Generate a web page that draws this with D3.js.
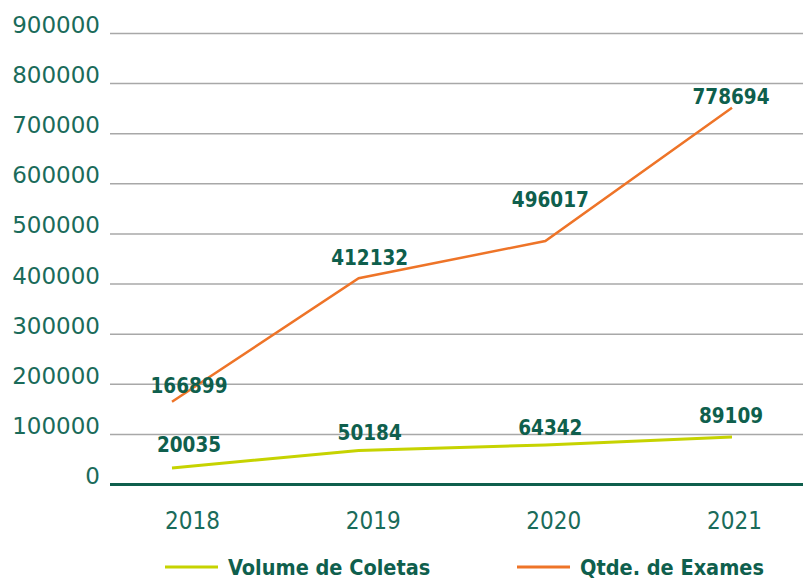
<!DOCTYPE html>
<html lang="pt">
<head>
<meta charset="UTF-8">
<title>Coletas e Exames</title>
<script src="https://cdn.jsdelivr.net/npm/d3@7"></script>
<style>
  body { margin: 0; background: #fff; }
</style>
</head>
<body>
<svg width="803" height="579" id="mainsvg"></svg>
<script>
// data
const years = ["2018", "2019", "2020", "2021"];
const coletas = [32000, 67000, 78000, 94000];        // where the green line sits
const exames = [164000, 410500, 485000, 751000];     // where the orange line sits
const coletasLabels = ["20035", "50184", "64342", "89109"];
const examesLabels = ["166899", "412132", "496017", "778694"];
const yTicks = [0, 100000, 200000, 300000, 400000, 500000, 600000, 700000, 800000, 900000];
const seriesNames = ["Volume de Coletas", "Qtde. de Exames"];

// label lift above the line point (layout only)
const coletasLift = [16, 10, 10, 14];
const examesLift = [9, 13, 34, 4];

const teal = '#0f5f4d';
const tickTeal = '#1a6b5a';
const green = '#c6d300';
const orange = '#ee7428';

const svg = d3.select('#mainsvg');
const plot = { left: 110, right: 803, top: 33, bottom: 484 };

const yScale = d3.scaleLinear().domain([0, 900000]).range([plot.bottom, plot.top]);
const xLine = d3.scalePoint().domain(years).range([172, 732]);
const xAxisScale = d3.scalePoint().domain(years).range([192, 734]);

// y axis + grid
const yAxis = d3.axisLeft(yScale).tickValues(yTicks).tickFormat(d3.format('d'))
    .tickSize(-(plot.right - plot.left)).tickPadding(10);
const yg = svg.append('g').attr('transform', `translate(${plot.left},0)`).call(yAxis);
yg.select('.domain').remove();
yg.selectAll('.tick line')
    .attr('stroke', d => d === 0 ? teal : '#a8a8a8')
    .attr('stroke-width', d => d === 0 ? 3 : 1.5);
yg.selectAll('.tick text')
    .attr('dy', '-0.02em')
    .attr('fill', tickTeal)
    .style('font-family', 'DejaVu Sans')
    .style('font-size', '23px');

// x axis
const xAxis = d3.axisBottom(xAxisScale).tickSize(0).tickPadding(0);
const xg = svg.append('g').attr('transform', `translate(0,${plot.bottom})`).call(xAxis);
xg.select('.domain').remove();
xg.selectAll('.tick text')
    .attr('y', 45).attr('dy', 0)
    .attr('fill', tickTeal)
    .style('font-family', 'DejaVu Sans Condensed')
    .style('font-size', '24px');

// lines
const line = d3.line().x((d, i) => xLine(years[i])).y(d => yScale(d));
svg.append('path').datum(exames).attr('d', line)
    .attr('fill', 'none').attr('stroke', orange).attr('stroke-width', 2.5);
svg.append('path').datum(coletas).attr('d', line)
    .attr('fill', 'none').attr('stroke', green).attr('stroke-width', 3);

// value labels
function labels(vals, texts, lift) {
    svg.append('g').selectAll('text').data(vals).join('text')
        .attr('x', (d, i) => xAxisScale(years[i]) - 3)
        .attr('y', (d, i) => yScale(d) - lift[i])
        .attr('text-anchor', 'middle')
        .attr('fill', teal)
        .style('font-family', 'DejaVu Sans Condensed')
        .style('font-weight', 'bold')
        .style('font-size', '20.5px')
        .text((d, i) => texts[i]);
}
labels(exames, examesLabels, examesLift);
labels(coletas, coletasLabels, coletasLift);

// legend
const legend = svg.append('g').attr('transform', 'translate(0,567)');
const legendItems = [
    { name: seriesNames[0], color: green, x: 165 },
    { name: seriesNames[1], color: orange, x: 517 }
];
const li = legend.selectAll('g').data(legendItems).join('g')
    .attr('transform', d => `translate(${d.x},0)`);
li.append('line').attr('x1', 0).attr('x2', 53).attr('y1', 0).attr('y2', 0)
    .attr('stroke', d => d.color).attr('stroke-width', 3);
li.append('text').attr('x', 63).attr('y', 8)
    .attr('fill', teal)
    .style('font-family', 'DejaVu Sans Condensed')
    .style('font-weight', 'bold')
    .style('font-size', '21.5px')
    .text(d => d.name);
</script>
</body>
</html>
